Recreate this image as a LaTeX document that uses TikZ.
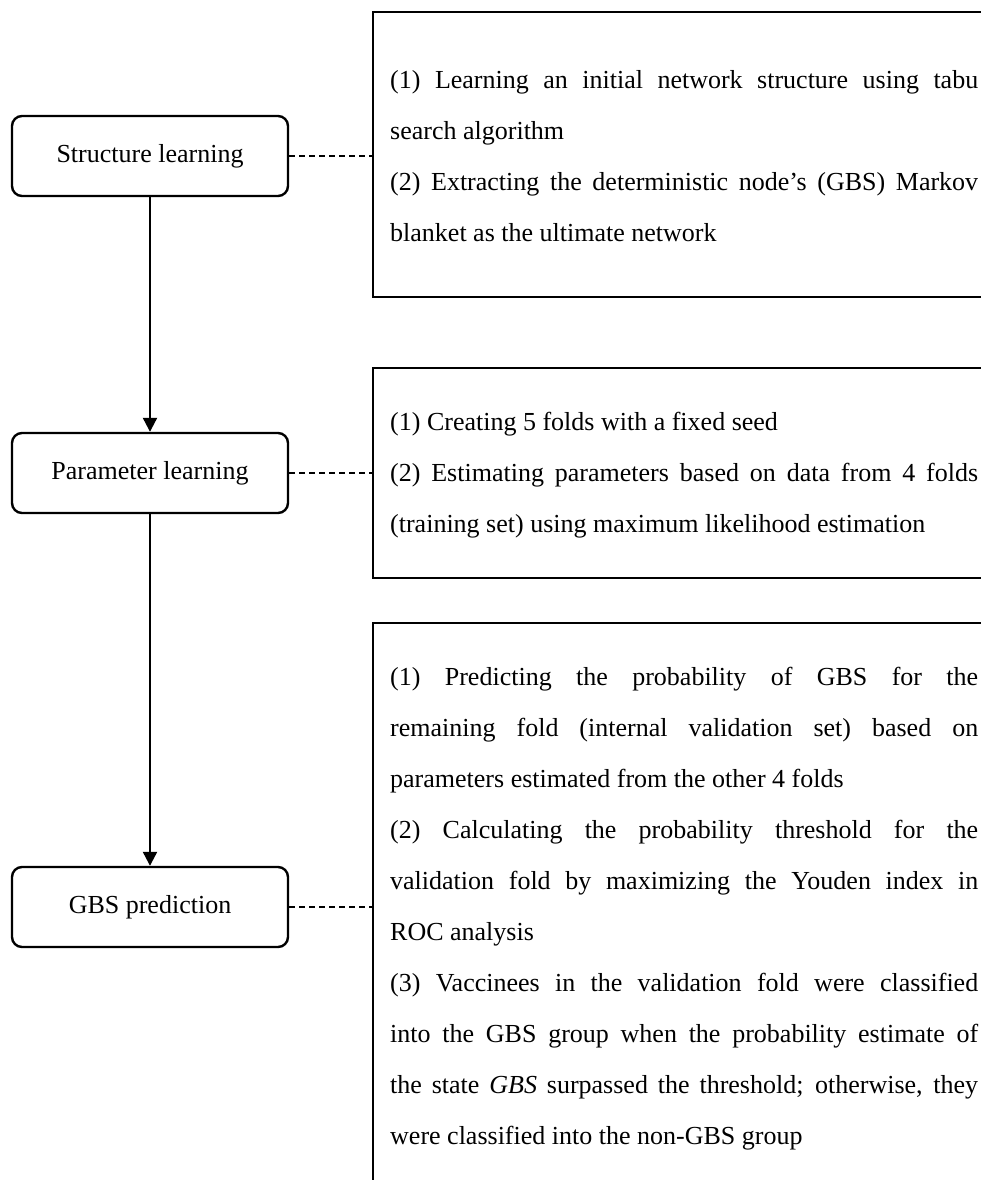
\documentclass[tikz,border=0pt]{standalone}
\usepackage{fontspec}
\setmainfont{Liberation Serif}
\usetikzlibrary{arrows.meta}
\setlength{\parindent}{0pt}
\setlength{\parskip}{0pt}
\tolerance=10000
\hbadness=10000
\hyphenpenalty=10000
\exhyphenpenalty=10000
\newcommand{\firststrut}{\rule{0pt}{20pt}}
\begin{document}
\begin{tikzpicture}[x=1pt,y=-1pt,
  stage/.style={draw, line width=2.4pt, rounded corners=10pt, minimum width=276pt,
    minimum height=80pt, inner sep=0pt, font=\fontsize{26}{30}\selectfont},
  frame/.style={line width=2.6pt},
  desc/.style={anchor=north west, inner sep=0pt, text width=588pt, align=justify,
    font=\fontsize{26}{51}\selectfont},
  flow/.style={line width=2.2pt, -{Triangle[length=14pt,width=14pt]}},
  link/.style={line width=1.8pt, dash pattern=on 6pt off 4pt}]
\useasboundingbox (0,0) rectangle (980,1180);

% left process boxes
\node[stage] (sl) at (150,156) {Structure learning};
\node[stage] (pl) at (150,473) {Parameter learning};
\node[stage] (gp) at (150,907) {GBS prediction};

% right description frames (open on the right / bottom)
\draw[frame] (982,12) -- (373,12) -- (373,297) -- (982,297);
\draw[frame] (982,368) -- (373,368) -- (373,578) -- (982,578);
\draw[frame] (982,623) -- (373,623) -- (373,1182);
\coordinate (f1) at (373,156);
\coordinate (f2) at (373,473);
\coordinate (f3) at (373,907);

% description texts
\node[desc] (t1) at (390,68) {\firststrut(1) Learning an initial network structure using tabu\linebreak
search algorithm\par
(2) Extracting the deterministic node’s (GBS) Markov\linebreak
blanket as the ultimate network\par};

\node[desc] (t2) at (390,410) {\firststrut(1) Creating 5 folds with a fixed seed\par
(2) Estimating parameters based on data from 4 folds\linebreak
(training set) using maximum likelihood estimation\par};

\node[desc] (t3) at (390,665) {\firststrut(1) Predicting the probability of GBS for the\linebreak
remaining fold (internal validation set) based on\linebreak
parameters estimated from the other 4 folds\par
(2) Calculating the probability threshold for the\linebreak
validation fold by maximizing the Youden index in\linebreak
ROC analysis\par
(3) Vaccinees in the validation fold were classified\linebreak
into the GBS group when the probability estimate of\linebreak
the state \textit{GBS} surpassed the threshold; otherwise, they\linebreak
were classified into the non-GBS group\par};

% connectors
\draw[flow] (sl.south) -- (pl.north);
\draw[flow] (pl.south) -- (gp.north);
\draw[link] (sl.east) -- (f1);
\draw[link] (pl.east) -- (f2);
\draw[link] (gp.east) -- (f3);
\end{tikzpicture}
\end{document}
